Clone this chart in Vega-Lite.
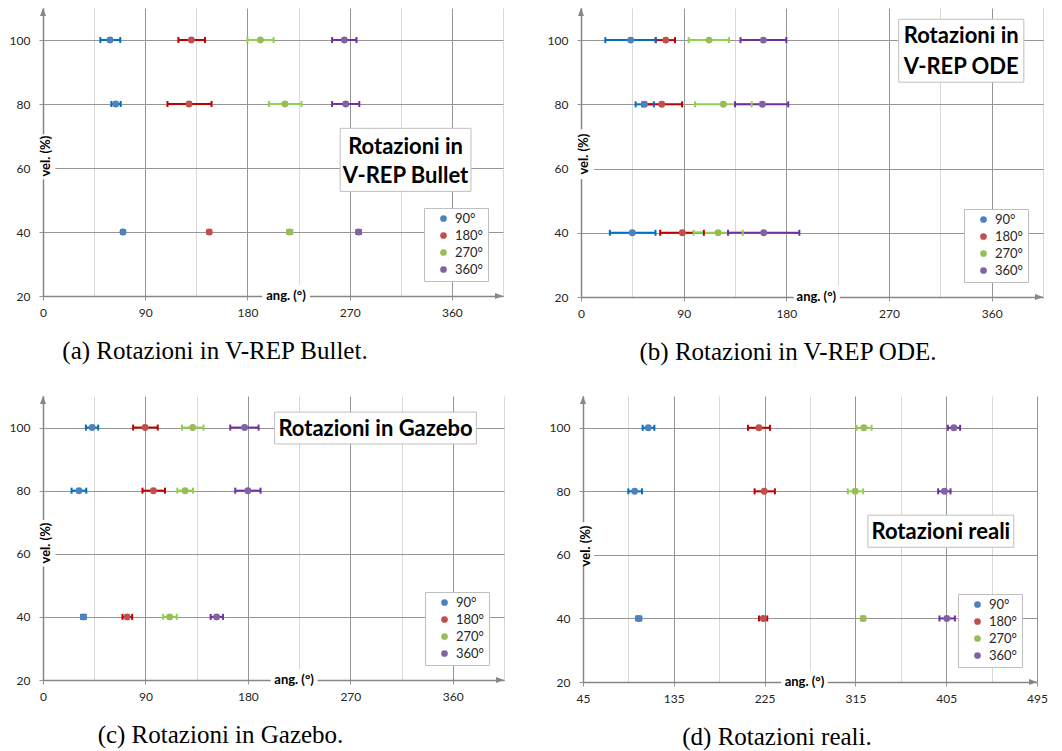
{
"$schema":"https://vega.github.io/schema/vega-lite/v6.json",
"background":"white",
"padding":{"top":8,"left":9,"right":5,"bottom":3},
"config":{"view":{"stroke":null},"font":"Lato"},
"datasets":{
"pts":[
{"p":"a","v":100,"s":"90°","m":59,"lo":50.5,"hi":68},
{"p":"a","v":100,"s":"180°","m":130.6,"lo":119.2,"hi":142.6},
{"p":"a","v":100,"s":"270°","m":191.4,"lo":180,"hi":203},
{"p":"a","v":100,"s":"360°","m":265.3,"lo":254.5,"hi":276},
{"p":"a","v":80,"s":"90°","m":64,"lo":60.2,"hi":68.4},
{"p":"a","v":80,"s":"180°","m":128.6,"lo":109.6,"hi":148.4},
{"p":"a","v":80,"s":"270°","m":213,"lo":199,"hi":227.6},
{"p":"a","v":80,"s":"360°","m":266.5,"lo":254.5,"hi":278.5},
{"p":"a","v":40,"s":"90°","m":70.4,"lo":69,"hi":71.8},
{"p":"a","v":40,"s":"180°","m":146.4,"lo":145,"hi":147.8},
{"p":"a","v":40,"s":"270°","m":217.1,"lo":215,"hi":219.5},
{"p":"a","v":40,"s":"360°","m":277.9,"lo":276,"hi":279.8},
{"p":"b","v":100,"s":"90°","m":43.6,"lo":21.3,"hi":65.5},
{"p":"b","v":100,"s":"180°","m":74.3,"lo":65.5,"hi":82.4},
{"p":"b","v":100,"s":"270°","m":112.3,"lo":94.4,"hi":129.8},
{"p":"b","v":100,"s":"360°","m":159.9,"lo":139.8,"hi":180},
{"p":"b","v":80,"s":"90°","m":55.7,"lo":47.9,"hi":63.9},
{"p":"b","v":80,"s":"180°","m":70.8,"lo":53.7,"hi":88.6},
{"p":"b","v":80,"s":"270°","m":124.8,"lo":99.9,"hi":149.6},
{"p":"b","v":80,"s":"360°","m":159,"lo":135,"hi":181.7},
{"p":"b","v":40,"s":"90°","m":45,"lo":25.3,"hi":65.3},
{"p":"b","v":40,"s":"180°","m":88.8,"lo":69.4,"hi":107.7},
{"p":"b","v":40,"s":"270°","m":120.2,"lo":98.7,"hi":141.8},
{"p":"b","v":40,"s":"360°","m":160.2,"lo":128.9,"hi":191.4},
{"p":"c","v":100,"s":"90°","m":43.2,"lo":37.7,"hi":48.5},
{"p":"c","v":100,"s":"180°","m":89.7,"lo":79.2,"hi":100.8},
{"p":"c","v":100,"s":"270°","m":131.5,"lo":122.1,"hi":141.1},
{"p":"c","v":100,"s":"360°","m":177.1,"lo":164.5,"hi":189.4},
{"p":"c","v":80,"s":"90°","m":31.6,"lo":25.1,"hi":38},
{"p":"c","v":80,"s":"180°","m":97,"lo":87.4,"hi":107.2},
{"p":"c","v":80,"s":"270°","m":124.8,"lo":118,"hi":131.8},
{"p":"c","v":80,"s":"360°","m":180,"lo":168.9,"hi":191.1},
{"p":"c","v":40,"s":"90°","m":35.4,"lo":33.5,"hi":37.5},
{"p":"c","v":40,"s":"180°","m":73.9,"lo":69.8,"hi":78.3},
{"p":"c","v":40,"s":"270°","m":111.3,"lo":105.5,"hi":117.5},
{"p":"c","v":40,"s":"360°","m":152.5,"lo":147.3,"hi":158.1},
{"p":"d","v":100,"s":"90°","m":109.7,"lo":104.1,"hi":115.7},
{"p":"d","v":100,"s":"180°","m":219.4,"lo":208.5,"hi":230.3},
{"p":"d","v":100,"s":"270°","m":323.4,"lo":316.1,"hi":331},
{"p":"d","v":100,"s":"360°","m":412.6,"lo":406.6,"hi":418.8},
{"p":"d","v":80,"s":"90°","m":96.2,"lo":89.9,"hi":103.5},
{"p":"d","v":80,"s":"180°","m":224.7,"lo":215.1,"hi":235.2},
{"p":"d","v":80,"s":"270°","m":314.8,"lo":307.5,"hi":322.7},
{"p":"d","v":80,"s":"360°","m":403.3,"lo":397,"hi":409.3},
{"p":"d","v":40,"s":"90°","m":100.2,"lo":97.8,"hi":102.8},
{"p":"d","v":40,"s":"180°","m":223.7,"lo":219.4,"hi":227.6},
{"p":"d","v":40,"s":"270°","m":322.7,"lo":320.8,"hi":324.7},
{"p":"d","v":40,"s":"360°","m":405.6,"lo":398.3,"hi":413.6}
],
"box":[
{"p":"a","k":"title","x1":261.6,"x2":376.8,"y1":52.7,"y2":72.4},
{"p":"a","k":"ax","x1":193,"x2":235,"y1":18.4,"y2":23.4},
{"p":"a","k":"ay","x1":-5,"x2":10.8,"y1":56.5,"y2":70.5},
{"p":"b","k":"title","x1":278.5,"x2":388.2,"y1":86.9,"y2":106.5},
{"p":"b","k":"ax","x1":186.4,"x2":226.8,"y1":18.4,"y2":23.4},
{"p":"b","k":"ay","x1":-5,"x2":11,"y1":56.7,"y2":72.2},
{"p":"c","k":"title","x1":203.5,"x2":380.7,"y1":94.8,"y2":104.9},
{"p":"c","k":"ax","x1":200,"x2":241.2,"y1":18.4,"y2":23.4},
{"p":"c","k":"ay","x1":-5,"x2":11,"y1":56,"y2":70.7},
{"p":"d","k":"title","x1":327.4,"x2":472,"y1":62.4,"y2":72.5},
{"p":"d","k":"ax","x1":241.5,"x2":287.7,"y1":18.4,"y2":23.4},
{"p":"d","k":"ay","x1":40,"x2":56,"y1":56.6,"y2":70.3}
],
"txt":[
{"p":"a","k":"title","t":"Rotazioni in","x":319.2,"y":66.5},
{"p":"a","k":"title","t":"V-REP Bullet","x":319.2,"y":57.4},
{"p":"a","k":"ax","t":"ang. (°)","x":214,"y":20},
{"p":"a","k":"ay","t":"vel. (%)","x":2.5,"y":63.7},
{"p":"b","k":"title","t":"Rotazioni in","x":333.3,"y":101.2},
{"p":"b","k":"title","t":"V-REP ODE","x":333.3,"y":91.6},
{"p":"b","k":"ax","t":"ang. (°)","x":206.3,"y":20},
{"p":"b","k":"ay","t":"vel. (%)","x":2.5,"y":64.5},
{"p":"c","k":"title","t":"Rotazioni in Gazebo","x":292.1,"y":99.7},
{"p":"c","k":"ax","t":"ang. (°)","x":220.6,"y":20},
{"p":"c","k":"ay","t":"vel. (%)","x":2.5,"y":63.4},
{"p":"d","k":"title","t":"Rotazioni reali","x":399.7,"y":67.2},
{"p":"d","k":"ax","t":"ang. (°)","x":264.5,"y":20},
{"p":"d","k":"ay","t":"vel. (%)","x":47.5,"y":62.8}
],
"arr":[
{"p":"a","k":"x","x":405,"y":20},{"p":"a","k":"y","x":0,"y":110},
{"p":"b","k":"x","x":405,"y":20},{"p":"b","k":"y","x":0,"y":110},
{"p":"c","k":"x","x":405,"y":20},{"p":"c","k":"y","x":0,"y":110},
{"p":"d","k":"x","x":495,"y":20},{"p":"d","k":"y","x":45,"y":110}
]
},
"spacing":31,
"resolve":{"scale":{"color":"independent"},"legend":{"color":"independent"}},
"vconcat":[
{"spacing":43,
"resolve":{"scale":{"color":"independent"},"legend":{"color":"independent"}},
"hconcat":[
{"width":460,"height":288,
"title":{"text":"(a) Rotazioni in V-REP Bullet.","orient":"bottom","anchor":"middle","frame":"group","dx":-58,"offset":21,"font":"Liberation Serif","fontSize":25,"fontWeight":"normal","color":"black"},
"layer":[
{"data":{"name":"pts"},"transform":[{"filter":"datum.p==='a'"}],"mark":{"type":"rule","strokeWidth":2},
"encoding":{"x":{"field":"lo","type":"quantitative","title":null,"scale":{"domain":[0,405],"nice":false,"zero":false},
"axis":{"values":[0,45,90,135,180,225,270,315,360,405],"title":null,"grid":true,"gridColor":{"condition":{"test":"datum.value % 90 === 0","value":"#969696"},"value":"#d9d9d9"},"tickColor":{"condition":{"test":"datum.value % 90 === 0","value":"#969696"},"value":"transparent"},"tickSize":4,"labelExpr":"datum.value % 90 === 0 && datum.value < 400 ? datum.label : ''","labelFlush":false,"labelOverlap":false,"labelPadding":7,"labelFont":"Lato","labelFontSize":12,"labelColor":"#262626","domainColor":"#868686","domainWidth":1.5,"zindex":0}},
"x2":{"field":"hi","title":null},
"y":{"field":"v","type":"quantitative","title":null,"scale":{"domain":[20,110],"nice":false,"zero":false},
"axis":{"values":[20,40,60,80,100],"title":null,"grid":true,"gridColor":"#969696","tickColor":"#969696","tickSize":4,"labelPadding":9,"labelFont":"Lato","labelFontSize":12,"labelColor":"#262626","domainColor":"#868686","domainWidth":1.5,"zindex":0}},
"stroke":{"field":"s","type":"nominal","scale":{"domain":["90°","180°","270°","360°"],"range":["#0070C0","#C00000","#92D050","#7030A0"]},"legend":null}}},
{"data":{"name":"pts"},"transform":[{"filter":"datum.p==='a'"}],"mark":{"type":"point","shape":"M0,-1L0,1","filled":false,"size":36,"strokeWidth":2,"opacity":1},
"encoding":{"x":{"field":"lo","type":"quantitative","title":null,"scale":{"domain":[0,405],"nice":false,"zero":false}},"y":{"field":"v","type":"quantitative","title":null,"scale":{"domain":[20,110],"nice":false,"zero":false}},"stroke":{"field":"s","type":"nominal","scale":{"domain":["90°","180°","270°","360°"],"range":["#0070C0","#C00000","#92D050","#7030A0"]},"legend":null}}},
{"data":{"name":"pts"},"transform":[{"filter":"datum.p==='a'"}],"mark":{"type":"point","shape":"M0,-1L0,1","filled":false,"size":36,"strokeWidth":2,"opacity":1},
"encoding":{"x":{"field":"hi","type":"quantitative","title":null,"scale":{"domain":[0,405],"nice":false,"zero":false}},"y":{"field":"v","type":"quantitative","title":null,"scale":{"domain":[20,110],"nice":false,"zero":false}},"stroke":{"field":"s","type":"nominal","scale":{"domain":["90°","180°","270°","360°"],"range":["#0070C0","#C00000","#92D050","#7030A0"]},"legend":null}}},
{"data":{"name":"pts"},"transform":[{"filter":"datum.p==='a'"}],"mark":{"type":"point","shape":"circle","filled":true,"size":48,"opacity":1},
"encoding":{"x":{"field":"m","type":"quantitative","title":null,"scale":{"domain":[0,405],"nice":false,"zero":false}},"y":{"field":"v","type":"quantitative","title":null,"scale":{"domain":[20,110],"nice":false,"zero":false}},
"color":{"field":"s","type":"nominal","scale":{"domain":["90°","180°","270°","360°"],"range":["#4F81BD","#C0504D","#9BBB59","#8064A2"]},
"legend":{"orient":"bottom-right","offset":15,"title":null,"fillColor":"white","strokeColor":"#bfbfbf","padding":4,"rowPadding":3,"symbolOffset":9,"labelOffset":5,"labelFont":"Lato","labelFontSize":13,"labelColor":"#262626","symbolType":"circle","symbolSize":45,"symbolStrokeWidth":0}}}},
{"data":{"name":"box"},"transform":[{"filter":"datum.p==='a'"}],"mark":{"type":"rect","fill":"white","strokeWidth":1},
"encoding":{"x":{"field":"x1","type":"quantitative","title":null,"scale":{"domain":[0,405],"nice":false,"zero":false}},"x2":{"field":"x2","title":null},"y":{"field":"y1","type":"quantitative","title":null,"scale":{"domain":[20,110],"nice":false,"zero":false}},"y2":{"field":"y2","title":null},
"stroke":{"condition":{"test":"datum.k==='title'","value":"#bfbfbf"},"value":null}}},
{"data":{"name":"txt"},"transform":[{"filter":"datum.p==='a'"}],"mark":{"type":"text","font":"Lato","fontWeight":"bold","align":"center","baseline":"middle","color":"black"},
"encoding":{"x":{"field":"x","type":"quantitative","title":null,"scale":{"domain":[0,405],"nice":false,"zero":false}},"y":{"field":"y","type":"quantitative","title":null,"scale":{"domain":[20,110],"nice":false,"zero":false}},"text":{"field":"t"},
"size":{"condition":{"test":"datum.k==='title'","value":22},"value":13},"angle":{"condition":{"test":"datum.k==='ay'","value":270},"value":0}}},
{"data":{"name":"arr"},"transform":[{"filter":"datum.p==='a'"}],"mark":{"type":"point","filled":true,"size":64,"opacity":1,"color":"#868686"},
"encoding":{"x":{"field":"x","type":"quantitative","title":null,"scale":{"domain":[0,405],"nice":false,"zero":false}},"y":{"field":"y","type":"quantitative","title":null,"scale":{"domain":[20,110],"nice":false,"zero":false}},
"shape":{"condition":{"test":"datum.k==='x'","value":"M0,0L-2,-0.75L-2,0.75Z"},"value":"M0,0L-0.75,2L0.75,2Z"}}}
]},
{"width":462,"height":289,
"title":{"text":"(b) Rotazioni in V-REP ODE.","orient":"bottom","anchor":"middle","frame":"group","dx":-24,"offset":21,"font":"Liberation Serif","fontSize":25,"fontWeight":"normal","color":"black"},
"layer":[
{"data":{"name":"pts"},"transform":[{"filter":"datum.p==='b'"}],"mark":{"type":"rule","strokeWidth":2},
"encoding":{"x":{"field":"lo","type":"quantitative","title":null,"scale":{"domain":[0,405],"nice":false,"zero":false},
"axis":{"values":[0,45,90,135,180,225,270,315,360,405],"title":null,"grid":true,"gridColor":{"condition":{"test":"datum.value % 90 === 0","value":"#969696"},"value":"#d9d9d9"},"tickColor":{"condition":{"test":"datum.value % 90 === 0","value":"#969696"},"value":"transparent"},"tickSize":4,"labelExpr":"datum.value % 90 === 0 && datum.value < 400 ? datum.label : ''","labelFlush":false,"labelOverlap":false,"labelPadding":7,"labelFont":"Lato","labelFontSize":12,"labelColor":"#262626","domainColor":"#868686","domainWidth":1.5,"zindex":0}},
"x2":{"field":"hi","title":null},
"y":{"field":"v","type":"quantitative","title":null,"scale":{"domain":[20,110],"nice":false,"zero":false},
"axis":{"values":[20,40,60,80,100],"title":null,"grid":true,"gridColor":"#969696","tickColor":"#969696","tickSize":4,"labelPadding":9,"labelFont":"Lato","labelFontSize":12,"labelColor":"#262626","domainColor":"#868686","domainWidth":1.5,"zindex":0}},
"stroke":{"field":"s","type":"nominal","scale":{"domain":["90°","180°","270°","360°"],"range":["#0070C0","#C00000","#92D050","#7030A0"]},"legend":null}}},
{"data":{"name":"pts"},"transform":[{"filter":"datum.p==='b'"}],"mark":{"type":"point","shape":"M0,-1L0,1","filled":false,"size":36,"strokeWidth":2,"opacity":1},
"encoding":{"x":{"field":"lo","type":"quantitative","title":null,"scale":{"domain":[0,405],"nice":false,"zero":false}},"y":{"field":"v","type":"quantitative","title":null,"scale":{"domain":[20,110],"nice":false,"zero":false}},"stroke":{"field":"s","type":"nominal","scale":{"domain":["90°","180°","270°","360°"],"range":["#0070C0","#C00000","#92D050","#7030A0"]},"legend":null}}},
{"data":{"name":"pts"},"transform":[{"filter":"datum.p==='b'"}],"mark":{"type":"point","shape":"M0,-1L0,1","filled":false,"size":36,"strokeWidth":2,"opacity":1},
"encoding":{"x":{"field":"hi","type":"quantitative","title":null,"scale":{"domain":[0,405],"nice":false,"zero":false}},"y":{"field":"v","type":"quantitative","title":null,"scale":{"domain":[20,110],"nice":false,"zero":false}},"stroke":{"field":"s","type":"nominal","scale":{"domain":["90°","180°","270°","360°"],"range":["#0070C0","#C00000","#92D050","#7030A0"]},"legend":null}}},
{"data":{"name":"pts"},"transform":[{"filter":"datum.p==='b'"}],"mark":{"type":"point","shape":"circle","filled":true,"size":48,"opacity":1},
"encoding":{"x":{"field":"m","type":"quantitative","title":null,"scale":{"domain":[0,405],"nice":false,"zero":false}},"y":{"field":"v","type":"quantitative","title":null,"scale":{"domain":[20,110],"nice":false,"zero":false}},
"color":{"field":"s","type":"nominal","scale":{"domain":["90°","180°","270°","360°"],"range":["#4F81BD","#C0504D","#9BBB59","#8064A2"]},
"legend":{"orient":"bottom-right","offset":15,"title":null,"fillColor":"white","strokeColor":"#bfbfbf","padding":4,"rowPadding":3,"symbolOffset":9,"labelOffset":5,"labelFont":"Lato","labelFontSize":13,"labelColor":"#262626","symbolType":"circle","symbolSize":45,"symbolStrokeWidth":0}}}},
{"data":{"name":"box"},"transform":[{"filter":"datum.p==='b'"}],"mark":{"type":"rect","fill":"white","strokeWidth":1},
"encoding":{"x":{"field":"x1","type":"quantitative","title":null,"scale":{"domain":[0,405],"nice":false,"zero":false}},"x2":{"field":"x2","title":null},"y":{"field":"y1","type":"quantitative","title":null,"scale":{"domain":[20,110],"nice":false,"zero":false}},"y2":{"field":"y2","title":null},
"stroke":{"condition":{"test":"datum.k==='title'","value":"#bfbfbf"},"value":null}}},
{"data":{"name":"txt"},"transform":[{"filter":"datum.p==='b'"}],"mark":{"type":"text","font":"Lato","fontWeight":"bold","align":"center","baseline":"middle","color":"black"},
"encoding":{"x":{"field":"x","type":"quantitative","title":null,"scale":{"domain":[0,405],"nice":false,"zero":false}},"y":{"field":"y","type":"quantitative","title":null,"scale":{"domain":[20,110],"nice":false,"zero":false}},"text":{"field":"t"},
"size":{"condition":{"test":"datum.k==='title'","value":22},"value":13},"angle":{"condition":{"test":"datum.k==='ay'","value":270},"value":0}}},
{"data":{"name":"arr"},"transform":[{"filter":"datum.p==='b'"}],"mark":{"type":"point","filled":true,"size":64,"opacity":1,"color":"#868686"},
"encoding":{"x":{"field":"x","type":"quantitative","title":null,"scale":{"domain":[0,405],"nice":false,"zero":false}},"y":{"field":"y","type":"quantitative","title":null,"scale":{"domain":[20,110],"nice":false,"zero":false}},
"shape":{"condition":{"test":"datum.k==='x'","value":"M0,0L-2,-0.75L-2,0.75Z"},"value":"M0,0L-0.75,2L0.75,2Z"}}}
]}
]},
{"spacing":44,
"resolve":{"scale":{"color":"independent"},"legend":{"color":"independent"}},
"hconcat":[
{"width":461,"height":284,
"title":{"text":"(c) Rotazioni in Gazebo.","orient":"bottom","anchor":"middle","frame":"group","dx":-53,"offset":21,"font":"Liberation Serif","fontSize":25,"fontWeight":"normal","color":"black"},
"layer":[
{"data":{"name":"pts"},"transform":[{"filter":"datum.p==='c'"}],"mark":{"type":"rule","strokeWidth":2},
"encoding":{"x":{"field":"lo","type":"quantitative","title":null,"scale":{"domain":[0,405],"nice":false,"zero":false},
"axis":{"values":[0,45,90,135,180,225,270,315,360,405],"title":null,"grid":true,"gridColor":{"condition":{"test":"datum.value % 90 === 0","value":"#969696"},"value":"#d9d9d9"},"tickColor":{"condition":{"test":"datum.value % 90 === 0","value":"#969696"},"value":"transparent"},"tickSize":4,"labelExpr":"datum.value % 90 === 0 && datum.value < 400 ? datum.label : ''","labelFlush":false,"labelOverlap":false,"labelPadding":7,"labelFont":"Lato","labelFontSize":12,"labelColor":"#262626","domainColor":"#868686","domainWidth":1.5,"zindex":0}},
"x2":{"field":"hi","title":null},
"y":{"field":"v","type":"quantitative","title":null,"scale":{"domain":[20,110],"nice":false,"zero":false},
"axis":{"values":[20,40,60,80,100],"title":null,"grid":true,"gridColor":"#969696","tickColor":"#969696","tickSize":4,"labelPadding":9,"labelFont":"Lato","labelFontSize":12,"labelColor":"#262626","domainColor":"#868686","domainWidth":1.5,"zindex":0}},
"stroke":{"field":"s","type":"nominal","scale":{"domain":["90°","180°","270°","360°"],"range":["#0070C0","#C00000","#92D050","#7030A0"]},"legend":null}}},
{"data":{"name":"pts"},"transform":[{"filter":"datum.p==='c'"}],"mark":{"type":"point","shape":"M0,-1L0,1","filled":false,"size":36,"strokeWidth":2,"opacity":1},
"encoding":{"x":{"field":"lo","type":"quantitative","title":null,"scale":{"domain":[0,405],"nice":false,"zero":false}},"y":{"field":"v","type":"quantitative","title":null,"scale":{"domain":[20,110],"nice":false,"zero":false}},"stroke":{"field":"s","type":"nominal","scale":{"domain":["90°","180°","270°","360°"],"range":["#0070C0","#C00000","#92D050","#7030A0"]},"legend":null}}},
{"data":{"name":"pts"},"transform":[{"filter":"datum.p==='c'"}],"mark":{"type":"point","shape":"M0,-1L0,1","filled":false,"size":36,"strokeWidth":2,"opacity":1},
"encoding":{"x":{"field":"hi","type":"quantitative","title":null,"scale":{"domain":[0,405],"nice":false,"zero":false}},"y":{"field":"v","type":"quantitative","title":null,"scale":{"domain":[20,110],"nice":false,"zero":false}},"stroke":{"field":"s","type":"nominal","scale":{"domain":["90°","180°","270°","360°"],"range":["#0070C0","#C00000","#92D050","#7030A0"]},"legend":null}}},
{"data":{"name":"pts"},"transform":[{"filter":"datum.p==='c'"}],"mark":{"type":"point","shape":"circle","filled":true,"size":48,"opacity":1},
"encoding":{"x":{"field":"m","type":"quantitative","title":null,"scale":{"domain":[0,405],"nice":false,"zero":false}},"y":{"field":"v","type":"quantitative","title":null,"scale":{"domain":[20,110],"nice":false,"zero":false}},
"color":{"field":"s","type":"nominal","scale":{"domain":["90°","180°","270°","360°"],"range":["#4F81BD","#C0504D","#9BBB59","#8064A2"]},
"legend":{"orient":"bottom-right","offset":15,"title":null,"fillColor":"white","strokeColor":"#bfbfbf","padding":4,"rowPadding":3,"symbolOffset":9,"labelOffset":5,"labelFont":"Lato","labelFontSize":13,"labelColor":"#262626","symbolType":"circle","symbolSize":45,"symbolStrokeWidth":0}}}},
{"data":{"name":"box"},"transform":[{"filter":"datum.p==='c'"}],"mark":{"type":"rect","fill":"white","strokeWidth":1},
"encoding":{"x":{"field":"x1","type":"quantitative","title":null,"scale":{"domain":[0,405],"nice":false,"zero":false}},"x2":{"field":"x2","title":null},"y":{"field":"y1","type":"quantitative","title":null,"scale":{"domain":[20,110],"nice":false,"zero":false}},"y2":{"field":"y2","title":null},
"stroke":{"condition":{"test":"datum.k==='title'","value":"#bfbfbf"},"value":null}}},
{"data":{"name":"txt"},"transform":[{"filter":"datum.p==='c'"}],"mark":{"type":"text","font":"Lato","fontWeight":"bold","align":"center","baseline":"middle","color":"black"},
"encoding":{"x":{"field":"x","type":"quantitative","title":null,"scale":{"domain":[0,405],"nice":false,"zero":false}},"y":{"field":"y","type":"quantitative","title":null,"scale":{"domain":[20,110],"nice":false,"zero":false}},"text":{"field":"t"},
"size":{"condition":{"test":"datum.k==='title'","value":22},"value":13},"angle":{"condition":{"test":"datum.k==='ay'","value":270},"value":0}}},
{"data":{"name":"arr"},"transform":[{"filter":"datum.p==='c'"}],"mark":{"type":"point","filled":true,"size":64,"opacity":1,"color":"#868686"},
"encoding":{"x":{"field":"x","type":"quantitative","title":null,"scale":{"domain":[0,405],"nice":false,"zero":false}},"y":{"field":"y","type":"quantitative","title":null,"scale":{"domain":[20,110],"nice":false,"zero":false}},
"shape":{"condition":{"test":"datum.k==='x'","value":"M0,0L-2,-0.75L-2,0.75Z"},"value":"M0,0L-0.75,2L0.75,2Z"}}}
]},
{"width":454,"height":286,
"title":{"text":"(d) Rotazioni reali.","orient":"bottom","anchor":"middle","frame":"group","dx":-33,"offset":21,"font":"Liberation Serif","fontSize":25,"fontWeight":"normal","color":"black"},
"layer":[
{"data":{"name":"pts"},"transform":[{"filter":"datum.p==='d'"}],"mark":{"type":"rule","strokeWidth":2},
"encoding":{"x":{"field":"lo","type":"quantitative","title":null,"scale":{"domain":[45,495],"nice":false,"zero":false},
"axis":{"values":[45,90,135,180,225,270,315,360,405,450,495],"title":null,"grid":true,"gridColor":{"condition":{"test":"(datum.value - 45) % 90 === 0","value":"#969696"},"value":"#d9d9d9"},"tickColor":{"condition":{"test":"(datum.value - 45) % 90 === 0","value":"#969696"},"value":"transparent"},"tickSize":4,"labelExpr":"(datum.value - 45) % 90 === 0 ? datum.label : ''","labelFlush":false,"labelOverlap":false,"labelPadding":7,"labelFont":"Lato","labelFontSize":12,"labelColor":"#262626","domainColor":"#868686","domainWidth":1.5,"zindex":0}},
"x2":{"field":"hi","title":null},
"y":{"field":"v","type":"quantitative","title":null,"scale":{"domain":[20,110],"nice":false,"zero":false},
"axis":{"values":[20,40,60,80,100],"title":null,"grid":true,"gridColor":"#969696","tickColor":"#969696","tickSize":4,"labelPadding":9,"labelFont":"Lato","labelFontSize":12,"labelColor":"#262626","domainColor":"#868686","domainWidth":1.5,"zindex":0}},
"stroke":{"field":"s","type":"nominal","scale":{"domain":["90°","180°","270°","360°"],"range":["#0070C0","#C00000","#92D050","#7030A0"]},"legend":null}}},
{"data":{"name":"pts"},"transform":[{"filter":"datum.p==='d'"}],"mark":{"type":"point","shape":"M0,-1L0,1","filled":false,"size":36,"strokeWidth":2,"opacity":1},
"encoding":{"x":{"field":"lo","type":"quantitative","title":null,"scale":{"domain":[45,495],"nice":false,"zero":false}},"y":{"field":"v","type":"quantitative","title":null,"scale":{"domain":[20,110],"nice":false,"zero":false}},"stroke":{"field":"s","type":"nominal","scale":{"domain":["90°","180°","270°","360°"],"range":["#0070C0","#C00000","#92D050","#7030A0"]},"legend":null}}},
{"data":{"name":"pts"},"transform":[{"filter":"datum.p==='d'"}],"mark":{"type":"point","shape":"M0,-1L0,1","filled":false,"size":36,"strokeWidth":2,"opacity":1},
"encoding":{"x":{"field":"hi","type":"quantitative","title":null,"scale":{"domain":[45,495],"nice":false,"zero":false}},"y":{"field":"v","type":"quantitative","title":null,"scale":{"domain":[20,110],"nice":false,"zero":false}},"stroke":{"field":"s","type":"nominal","scale":{"domain":["90°","180°","270°","360°"],"range":["#0070C0","#C00000","#92D050","#7030A0"]},"legend":null}}},
{"data":{"name":"pts"},"transform":[{"filter":"datum.p==='d'"}],"mark":{"type":"point","shape":"circle","filled":true,"size":48,"opacity":1},
"encoding":{"x":{"field":"m","type":"quantitative","title":null,"scale":{"domain":[45,495],"nice":false,"zero":false}},"y":{"field":"v","type":"quantitative","title":null,"scale":{"domain":[20,110],"nice":false,"zero":false}},
"color":{"field":"s","type":"nominal","scale":{"domain":["90°","180°","270°","360°"],"range":["#4F81BD","#C0504D","#9BBB59","#8064A2"]},
"legend":{"orient":"bottom-right","offset":15,"title":null,"fillColor":"white","strokeColor":"#bfbfbf","padding":4,"rowPadding":3,"symbolOffset":9,"labelOffset":5,"labelFont":"Lato","labelFontSize":13,"labelColor":"#262626","symbolType":"circle","symbolSize":45,"symbolStrokeWidth":0}}}},
{"data":{"name":"box"},"transform":[{"filter":"datum.p==='d'"}],"mark":{"type":"rect","fill":"white","strokeWidth":1},
"encoding":{"x":{"field":"x1","type":"quantitative","title":null,"scale":{"domain":[45,495],"nice":false,"zero":false}},"x2":{"field":"x2","title":null},"y":{"field":"y1","type":"quantitative","title":null,"scale":{"domain":[20,110],"nice":false,"zero":false}},"y2":{"field":"y2","title":null},
"stroke":{"condition":{"test":"datum.k==='title'","value":"#bfbfbf"},"value":null}}},
{"data":{"name":"txt"},"transform":[{"filter":"datum.p==='d'"}],"mark":{"type":"text","font":"Lato","fontWeight":"bold","align":"center","baseline":"middle","color":"black"},
"encoding":{"x":{"field":"x","type":"quantitative","title":null,"scale":{"domain":[45,495],"nice":false,"zero":false}},"y":{"field":"y","type":"quantitative","title":null,"scale":{"domain":[20,110],"nice":false,"zero":false}},"text":{"field":"t"},
"size":{"condition":{"test":"datum.k==='title'","value":22},"value":13},"angle":{"condition":{"test":"datum.k==='ay'","value":270},"value":0}}},
{"data":{"name":"arr"},"transform":[{"filter":"datum.p==='d'"}],"mark":{"type":"point","filled":true,"size":64,"opacity":1,"color":"#868686"},
"encoding":{"x":{"field":"x","type":"quantitative","title":null,"scale":{"domain":[45,495],"nice":false,"zero":false}},"y":{"field":"y","type":"quantitative","title":null,"scale":{"domain":[20,110],"nice":false,"zero":false}},
"shape":{"condition":{"test":"datum.k==='x'","value":"M0,0L-2,-0.75L-2,0.75Z"},"value":"M0,0L-0.75,2L0.75,2Z"}}}
]}
]}
]
}
